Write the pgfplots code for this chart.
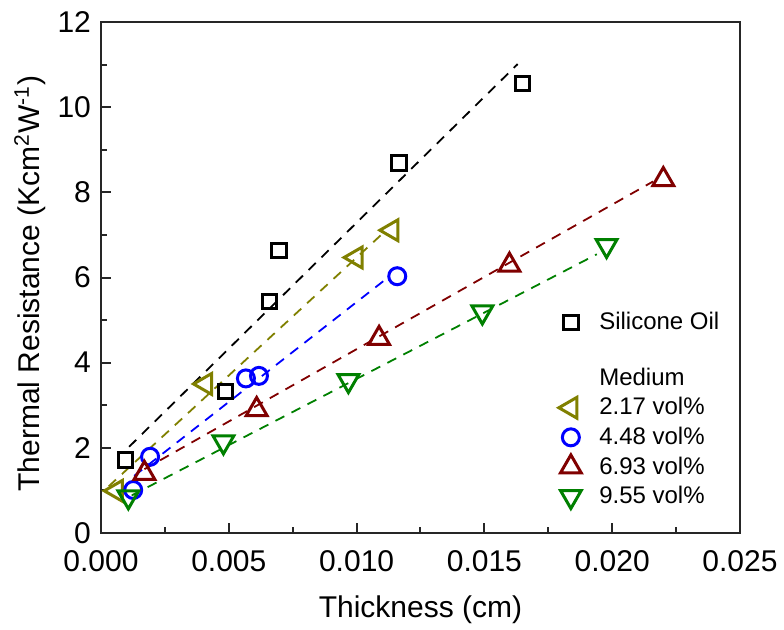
\documentclass[border=0pt]{standalone}
\usepackage{pgfplots}
\pgfplotsset{compat=1.18}
\usepackage{fontspec}
\setmainfont{Liberation Sans}

\definecolor{cOlive}{RGB}{128,128,0}
\definecolor{cBlue}{RGB}{0,0,255}
\definecolor{cRed}{RGB}{128,0,0}
\definecolor{cGreen}{RGB}{0,128,0}

\begin{document}
\begin{tikzpicture}
\begin{axis}[
  at={(0,0)}, anchor=south west,
  scale only axis, width=319.5pt, height=255.5pt,
  xmin=0, xmax=0.025, ymin=0, ymax=12,
  xtick={0,0.005,0.01,0.015,0.02,0.025},
  ytick={0,2,4,6,8,10,12},
  minor x tick num=1, minor y tick num=1,
  tick align=inside, xtick pos=bottom, ytick pos=left,
  major tick length=5pt, minor tick length=3pt,
  axis line style={line width=1pt, black!85},
  every tick/.style={line width=1pt, black!85},
  scaled x ticks=false,
  /pgf/number format/assume math mode=true,
  x tick label style={/pgf/number format/fixed, /pgf/number format/fixed zerofill, /pgf/number format/precision=3, yshift=-5pt},
  tick label style={font=\fontsize{15}{18}\selectfont},
  yticklabel style={xshift=-1.5pt},
  label style={font=\fontsize{15}{18}\selectfont},
  xlabel={Thickness (cm)},
  ylabel={Thermal Resistance (Kcm\textsuperscript{2}W\textsuperscript{-1})},
  xlabel style={at={(axis description cs:0.5,0)}, anchor=center, yshift=-38.5pt},
  ylabel style={at={([xshift=-35.5pt, yshift=-3pt]axis description cs:0,0.5)}, anchor=center},
  legend cell align=left,
  legend style={draw=none, fill=none, at={(0.708,0.440)}, anchor=north west,
    inner xsep=0pt, inner ysep=0pt, row sep=0.6pt, column sep=7pt,
    font=\fontsize{12}{14}\selectfont,
    nodes={inner sep=2pt, text depth=0.15em}},
  fitline/.style={dash pattern=on 5pt off 4pt, line width=0.9pt, forget plot},
  pts/.style={only marks},
]

% linear fits
\addplot[fitline, black] coordinates {(0.0011,2.024) (0.0163,11.011)};
\addplot[fitline, cOlive] coordinates {(0.0003,1.096) (0.0110,7.022)};
\addplot[fitline, cBlue] coordinates {(0.0013,1.342) (0.0112,5.986)};
\addplot[fitline, cRed] coordinates {(0.0017,1.499) (0.0216,8.255)};
\addplot[fitline, cGreen] coordinates {(0.0012,0.882) (0.0194,6.546)};

% Silicone oil
\addplot[pts, black, mark=square, mark size=3.6pt,
  mark options={line width=1.5pt, solid, fill=none}] coordinates {
  (0.00097,1.71) (0.00488,3.32) (0.00659,5.43) (0.00696,6.64) (0.01166,8.69) (0.01648,10.56)};
\addlegendentry{Silicone Oil}
\addlegendimage{empty legend}
\addlegendentry{\rule{0pt}{6.8pt}}
\addlegendimage{empty legend}
\addlegendentry{Medium}

% 2.17 vol%
\addplot[pts, cOlive, mark=triangle, mark size=6pt,
  mark options={line width=1.5pt, solid, fill=none, rotate=90}] coordinates {
  (0.0006,0.99) (0.00409,3.50) (0.00998,6.47) (0.01138,7.11)};
\addlegendentry{2.17 vol\%}

% 4.48 vol%
\addplot[pts, cBlue, mark=o, mark size=4.25pt,
  mark options={line width=1.5pt, solid, fill=none}] coordinates {
  (0.00126,1.01) (0.00192,1.79) (0.00567,3.63) (0.00618,3.69) (0.01159,6.03)};
\addlegendentry{4.48 vol\%}

% 6.93 vol%
\addplot[pts, cRed, mark=triangle, mark size=6pt,
  mark options={line width=1.5pt, solid, fill=none}] coordinates {
  (0.0017,1.40) (0.00609,2.90) (0.01088,4.57) (0.01598,6.29) (0.0220,8.30)};
\addlegendentry{6.93 vol\%}

% 9.55 vol%
\addplot[pts, cGreen, mark=triangle, mark size=6pt,
  mark options={line width=1.5pt, solid, fill=none, rotate=180}] coordinates {
  (0.00107,0.85) (0.00479,2.14) (0.00968,3.58) (0.01492,5.19) (0.01978,6.75)};
\addlegendentry{9.55 vol\%}

\end{axis}
\pgfresetboundingbox
\path (-50.5pt,-48pt) rectangle (341.5pt,266.5pt);
\end{tikzpicture}
\end{document}
